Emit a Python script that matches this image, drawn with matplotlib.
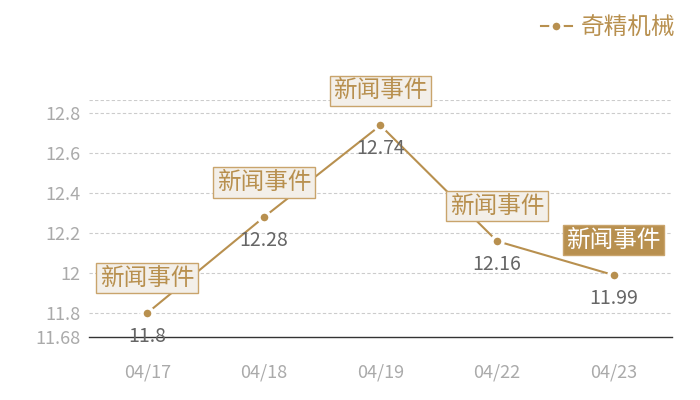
import matplotlib
matplotlib.use("Agg")
import matplotlib.pyplot as plt

plt.rcParams['font.family'] = ['Noto Sans CJK SC', 'DejaVu Sans']

dates = ["04/17", "04/18", "04/19", "04/22", "04/23"]
values = [11.8, 12.28, 12.74, 12.16, 11.99]
series_name = "奇精机械"
event_label = "新闻事件"
y_ticks = [11.68, 11.8, 12.0, 12.2, 12.4, 12.6, 12.8]
y_tick_labels = ["11.68", "11.8", "12", "12.2", "12.4", "12.6", "12.8"]
y_min, y_max = 11.682, 12.867

gold = "#b8904f"
fig = plt.figure(figsize=(7, 4), dpi=100)
ax = fig.add_axes([0.127, 0.1575, 0.833, 0.5925])

x = list(range(len(dates)))
ax.plot(x, values, color=gold, lw=1.5, marker='o', ms=8, mfc=gold,
        mec='white', mew=2.5, label=series_name, zorder=3)

ax.set_xlim(-0.5, len(dates) - 0.5)
ax.set_ylim(y_min, y_max)
ax.set_xticks(x)
ax.set_xticklabels(dates)
ax.set_yticks(y_ticks)
ax.set_yticklabels(y_tick_labels)
ax.tick_params(length=0, colors='#aaaaaa', labelsize=13)
ax.tick_params(axis='x', pad=19)
ax.tick_params(axis='y', pad=6)

for yv in y_ticks[1:] + [y_max]:
    ax.axhline(yv, color='#cccccc', lw=0.8, ls=(0, (3, 2)), zorder=1)

for s in ['top', 'right', 'left']:
    ax.spines[s].set_visible(False)
ax.spines['bottom'].set_color('#333333')
ax.spines['bottom'].set_linewidth(1)

for i, v in enumerate(values):
    ax.annotate(f"{v:g}", (i, v), xytext=(0, -9), textcoords='offset points',
                ha='center', va='top', fontsize=14, color='#666666', zorder=4)
    last = i == len(values) - 1
    ax.annotate(event_label, (i, v), xytext=(0, 25), textcoords='offset points',
                ha='center', va='center', fontsize=17,
                color='white' if last else gold, zorder=5,
                bbox=dict(boxstyle='square,pad=0.15',
                          fc=gold if last else '#f3efe9',
                          ec='#c9a46c', lw=1))

handles, labels = ax.get_legend_handles_labels()
leg = fig.legend(handles, labels, loc='upper right', bbox_to_anchor=(0.982, 0.99),
                 frameon=False, fontsize=17, handlelength=1.3, handletextpad=0.4,
                 borderpad=0)
for t in leg.get_texts():
    t.set_color(gold)

fig.savefig("out.png", dpi=100)
